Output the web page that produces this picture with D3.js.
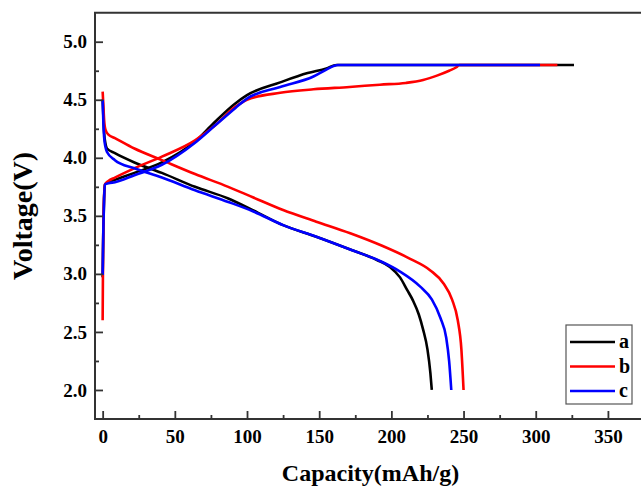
<!DOCTYPE html>
<html>
<head>
<meta charset="utf-8">
<script src="https://cdn.jsdelivr.net/npm/d3@7"></script>
<style>
  html, body { margin: 0; padding: 0; background: #fff; }
  svg { display: block; }
</style>
</head>
<body>
<svg id="chart" width="641" height="486"></svg>
<script>
// ---- data (capacity mAh/g, voltage V) ----
const seriesNames = ["a", "b", "c"];
const seriesColors = ["#000000", "#ff0000", "#0000ff"];

const aDischarge = [[0,4.50],[0.5,4.35],[1,4.22],[2,4.12],[3,4.08],[8.5,4.04],[22,3.96],[41,3.87],[64,3.75],[87,3.65],[104,3.55],[125,3.42],[148,3.32],[171.5,3.21],[190,3.12],[199,3.06],[206,2.97],[211,2.86],[215,2.77],[219,2.65],[222,2.52],[225,2.35],[227,2.15],[228,2.0]];
const bDischarge = [[0,4.57],[0.5,4.45],[1,4.33],[2,4.24],[4,4.20],[8.5,4.17],[22,4.08],[41,3.98],[64,3.86],[87,3.75],[104,3.66],[125,3.55],[148,3.45],[171.5,3.35],[194,3.24],[213,3.13],[227,3.03],[236,2.92],[242,2.78],[246,2.60],[248.5,2.35],[250,2.0]];
const cDischarge = [[0,4.50],[0.5,4.30],[1,4.18],[2,4.09],[3,4.05],[8.5,3.98],[22,3.91],[41,3.83],[64,3.72],[87,3.62],[104,3.54],[125,3.42],[148,3.32],[171.5,3.21],[194,3.10],[206,3.02],[220,2.89],[228,2.78],[234,2.62],[238,2.45],[240,2.25],[241.5,2.0]];

const aCharge = [[0,2.97],[0.5,3.40],[1,3.65],[1.6,3.77],[4,3.79],[8.5,3.81],[22,3.87],[41,3.96],[64,4.14],[77,4.30],[91,4.46],[100,4.54],[123,4.65],[142,4.73],[155,4.77],[162,4.80],[326.5,4.80]];
const bCharge = [[0,2.60],[0.3,3.20],[0.8,3.60],[1.6,3.77],[4,3.80],[8.5,3.83],[22,3.91],[41,4.01],[64,4.15],[78,4.28],[91,4.43],[100,4.50],[123,4.56],[146,4.59],[171,4.61],[192,4.63],[210,4.645],[222,4.67],[232,4.71],[240,4.75],[245,4.78],[247,4.80],[315,4.80]];
const cCharge = [[0,2.99],[0.5,3.40],[1,3.65],[1.6,3.77],[4,3.78],[8.5,3.79],[22,3.85],[41,3.94],[64,4.13],[78,4.28],[92,4.43],[100,4.51],[123,4.61],[146,4.70],[155,4.76],[163,4.80],[303,4.80]];

const xMajorTicks = [0, 50, 100, 150, 200, 250, 300, 350];
const xMinorTicks = [25, 75, 125, 175, 225, 275, 325];
const yMajorTicks = [2.0, 2.5, 3.0, 3.5, 4.0, 4.5, 5.0];
const yMinorTicks = [2.25, 2.75, 3.25, 3.75, 4.25, 4.75];

const xTitle = "Capacity(mAh/g)";
const yTitle = "Voltage(V)";

// ---- layout ----
(function () {
const svg = d3.select("#chart");
const pLeft = 95, pTop = 12.7, pRight = 644, pBottom = 419;
const font = "'Liberation Serif', 'Times New Roman', serif";
const axisColor = "#333";

const x = d3.scaleLinear().domain([-5.3, 375]).range([pLeft, pRight]);
const y = d3.scaleLinear().domain([1.75, 5.25]).range([pBottom, pTop]);

const groups = [
  { name: "a", color: seriesColors[0], dis: aDischarge, ch: aCharge },
  { name: "b", color: seriesColors[1], dis: bDischarge, ch: bCharge },
  { name: "c", color: seriesColors[2], dis: cDischarge, ch: cCharge }
];

const lineGen = d3.line().x(d => x(d[0])).y(d => y(d[1])).curve(d3.curveMonotoneX);
const plot = svg.append("g");
groups.forEach(g => {
  [g.dis, g.ch].forEach(arr => {
    plot.append("path")
      .attr("d", lineGen(arr))
      .attr("fill", "none")
      .attr("stroke", g.color)
      .attr("stroke-width", 2.6)
      .attr("stroke-linejoin", "round")
      .attr("stroke-linecap", "butt");
  });
});

// axes
const xAxis = svg.append("g").attr("transform", `translate(0,${pBottom})`)
  .call(d3.axisBottom(x).tickValues(xMajorTicks).tickSize(-8).tickPadding(11).tickFormat(d3.format("d")));
const xMinor = svg.append("g").attr("transform", `translate(0,${pBottom})`)
  .call(d3.axisBottom(x).tickValues(xMinorTicks).tickSize(-4).tickFormat(""));
const yAxis = svg.append("g").attr("transform", `translate(${pLeft},0)`)
  .call(d3.axisLeft(y).tickValues(yMajorTicks).tickSize(-8).tickPadding(14).tickFormat(d3.format(".1f")));
const yMinor = svg.append("g").attr("transform", `translate(${pLeft},0)`)
  .call(d3.axisLeft(y).tickValues(yMinorTicks).tickSize(-4).tickFormat(""));

[xAxis, xMinor, yAxis, yMinor].forEach(a => {
  a.select(".domain").remove();
  a.selectAll(".tick line").attr("stroke", axisColor).attr("stroke-width", 1.8);
  a.selectAll(".tick text")
    .attr("fill", "#000")
    .style("font-family", font)
    .style("font-weight", "bold")
    .style("font-size", "19px");
});
xAxis.selectAll(".tick text").attr("dy", "0.71em");
yAxis.selectAll(".tick text").attr("x", -8);

// frame
svg.append("path")
  .attr("d", `M${pRight},${pTop}H${pLeft}V${pBottom}H${pRight}V${pTop}`)
  .attr("fill", "none")
  .attr("stroke", axisColor)
  .attr("stroke-width", 2);

// titles
svg.append("text")
  .attr("x", (pLeft + pRight) / 2 + 1).attr("y", 481)
  .attr("text-anchor", "middle")
  .style("font-family", font).style("font-weight", "bold").style("font-size", "24px")
  .text(xTitle);
svg.append("text")
  .attr("transform", `translate(32,${(pTop + pBottom) / 2}) rotate(-90)`)
  .attr("text-anchor", "middle")
  .style("font-family", font).style("font-weight", "bold").style("font-size", "28px")
  .text(yTitle);

// legend
const lg = svg.append("g");
lg.append("rect")
  .attr("x", 566).attr("y", 325).attr("width", 66).attr("height", 79)
  .attr("fill", "#fff").attr("stroke", "#555").attr("stroke-width", 1.2);
const rowY = d3.scalePoint().domain(seriesNames).range([342, 391]);
seriesNames.forEach((n, i) => {
  lg.append("line")
    .attr("x1", 570).attr("x2", 615)
    .attr("y1", rowY(n)).attr("y2", rowY(n))
    .attr("stroke", seriesColors[i]).attr("stroke-width", 2.6);
  lg.append("text")
    .attr("x", 619).attr("y", rowY(n) + 6)
    .style("font-family", font).style("font-weight", "bold").style("font-size", "20px")
    .text(n);
});
})();
</script>
</body>
</html>
